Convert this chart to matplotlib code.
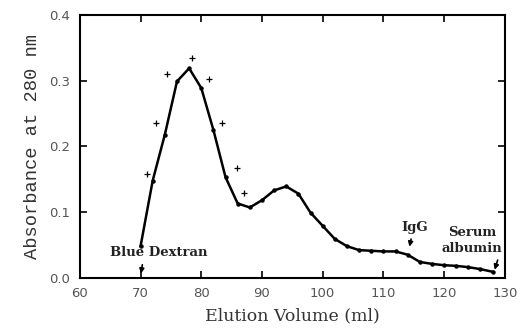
import matplotlib
matplotlib.use("Agg")
import matplotlib.pyplot as plt

# main elution profile
volume = [70, 72, 74, 76, 78, 80, 82, 84, 86, 88, 90, 92, 94, 96, 98, 100,
          102, 104, 106, 108, 110, 112, 114, 116, 118, 120, 122, 124, 126, 128]
absorbance = [0.048, 0.148, 0.218, 0.299, 0.319, 0.289, 0.225, 0.153, 0.113, 0.107,
              0.118, 0.133, 0.139, 0.128, 0.099, 0.079, 0.059, 0.048, 0.042, 0.041,
              0.040, 0.040, 0.035, 0.024, 0.021, 0.019, 0.018, 0.016, 0.013, 0.009]

# secondary "+" markers
plus_volume = [71, 72.5, 74.4, 78.4, 81.3, 83.4, 85.9, 87.1]
plus_abs = [0.158, 0.236, 0.310, 0.334, 0.302, 0.236, 0.167, 0.129]

xticks = [60, 70, 80, 90, 100, 110, 120, 130]
yticks = [0.0, 0.1, 0.2, 0.3, 0.4]

fig = plt.figure(figsize=(5.22, 3.29), dpi=100)
ax = fig.add_axes([0.153, 0.156, 0.814, 0.798])

ax.plot(volume, absorbance, color="black", lw=1.8, marker="o", ms=2.2)
ax.plot(plus_volume, plus_abs, ls="none", marker="+", ms=4, mew=0.9, color="black")

ax.set_xlim(60, 130)
ax.set_ylim(0, 0.4)
ax.set_xticks(xticks)
ax.set_yticks(yticks)
ax.set_yticklabels([f"{v:.1f}" for v in yticks])
ax.tick_params(direction="in", top=True, right=True, length=5, width=1.2,
               labelsize=9.5, colors="black", labelcolor="#555555", pad=7)
for lab in ax.get_xticklabels() + ax.get_yticklabels():
    lab.set_family("DejaVu Sans")
for s in ax.spines.values():
    s.set_linewidth(1.5)

ax.set_xlabel("Elution Volume (ml)", family="DejaVu Serif", fontsize=12.5,
              color="#333333", labelpad=5)
ax.set_ylabel("Absorbance at 280 nm", family="Liberation Mono", fontsize=13.5,
              color="#333333", labelpad=6)

ann = dict(family="DejaVu Serif", fontsize=9.5, fontweight="bold", color="#222222")
arrow = dict(arrowstyle="-|>", color="black", lw=1.2, mutation_scale=7)
ax.annotate("Blue Dextran", xy=(70, 0.002), xytext=(73, 0.038),
            ha="center", va="center", arrowprops=dict(arrow, relpos=(0.34, 0)), **ann)
ax.annotate("IgG", xy=(114.2, 0.043), xytext=(115.2, 0.077),
            ha="center", va="center", arrowprops=dict(arrow, relpos=(0.4, 0)), **ann)
ax.text(124.6, 0.069, "Serum", ha="center", va="center", **ann)
ax.annotate("albumin", xy=(128.2, 0.008), xytext=(124.6, 0.045),
            ha="center", va="center", arrowprops=dict(arrow, relpos=(0.95, 0)), **ann)

fig.savefig("out.png", dpi=100)
